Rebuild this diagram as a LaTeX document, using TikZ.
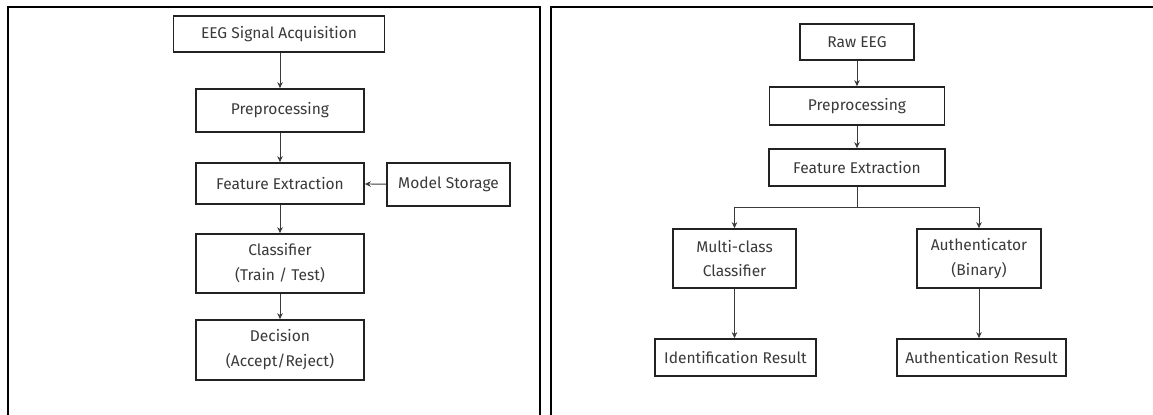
\documentclass[tikz,border=0pt]{standalone}
\usepackage{fontspec}
\setmainfont{Fira Sans}
\usetikzlibrary{arrows.meta}
\definecolor{ink}{HTML}{222222}
\definecolor{txt}{HTML}{3A3A3A}
\definecolor{wire}{HTML}{3A3A3A}
\tikzset{
  box/.style={draw=ink, line width=1.7bp, fill=white, inner sep=0pt,
    align=center, text=txt, font=\fontsize{15.6}{25}\selectfont},
  arr/.style={draw=wire, line width=0.9bp, -{Stealth[length=6bp,width=5.5bp]}},
  panel/.style={draw=black, line width=2bp}
}
\begin{document}
\begin{tikzpicture}[x=1bp, y=-1bp]
\useasboundingbox (0,0) rectangle (1153,414);
\clip (0,0) rectangle (1153,414);
% panel frames
\draw[panel] (8,7) rectangle (540,430);
\draw[panel] (551,7) rectangle (1170,430);

% left pipeline
\node[box, minimum width=211bp, minimum height=36bp] (eeg)   at (279,34)    {EEG Signal Acquisition};
\node[box, minimum width=168bp, minimum height=43bp] (prepL) at (280,110.5) {Preprocessing};
\node[box, minimum width=168bp, minimum height=41bp] (featL) at (280,183.5) {Feature Extraction};
\node[box, minimum width=123bp, minimum height=43bp] (model) at (448.5,184.5) {Model Storage};
\node[box, minimum width=168bp, minimum height=59bp] (clsL)  at (280,263.5) {Classifier\\(Train / Test)};
\node[box, minimum width=168bp, minimum height=60bp] (dec)   at (280,350)   {Decision\\(Accept/Reject)};

\draw[arr] (eeg.south -| prepL.north) -- (prepL.north);
\draw[arr] (prepL) -- (featL);
\draw[arr] (featL) -- (clsL);
\draw[arr] (clsL) -- (dec);
\draw[arr] (model) -- (featL);

% right pipeline
\node[box, minimum width=114bp, minimum height=36bp] (raw)     at (857,42)     {Raw EEG};
\node[box, minimum width=175bp, minimum height=38bp] (prepR)   at (857,106)    {Preprocessing};
\node[box, minimum width=176bp, minimum height=37bp] (featR)   at (857,167.5)  {Feature Extraction};
\node[box, minimum width=123bp, minimum height=59bp] (multi)   at (734.5,258.5){Multi-class\\Classifier};
\node[box, minimum width=124bp, minimum height=59bp] (auth)    at (979,258.5)  {Authenticator\\(Binary)};
\node[box, minimum width=161bp, minimum height=37bp] (ident)   at (735.5,357.5){Identification Result};
\node[box, minimum width=169bp, minimum height=37bp] (authres) at (981.5,357.5){Authentication Result};

\coordinate (split) at (857,207);
\draw[arr] (raw) -- (prepR);
\draw[arr] (prepR) -- (featR);
\draw[draw=wire, line width=0.9bp] (featR.south) -- (split);
\draw[arr] (split) -| (multi.north);
\draw[arr] (split) -| (auth.north);
\draw[arr] (multi.south) -- (multi.south |- ident.north);
\draw[arr] (auth.south) -- (auth.south |- authres.north);
\end{tikzpicture}
\end{document}
